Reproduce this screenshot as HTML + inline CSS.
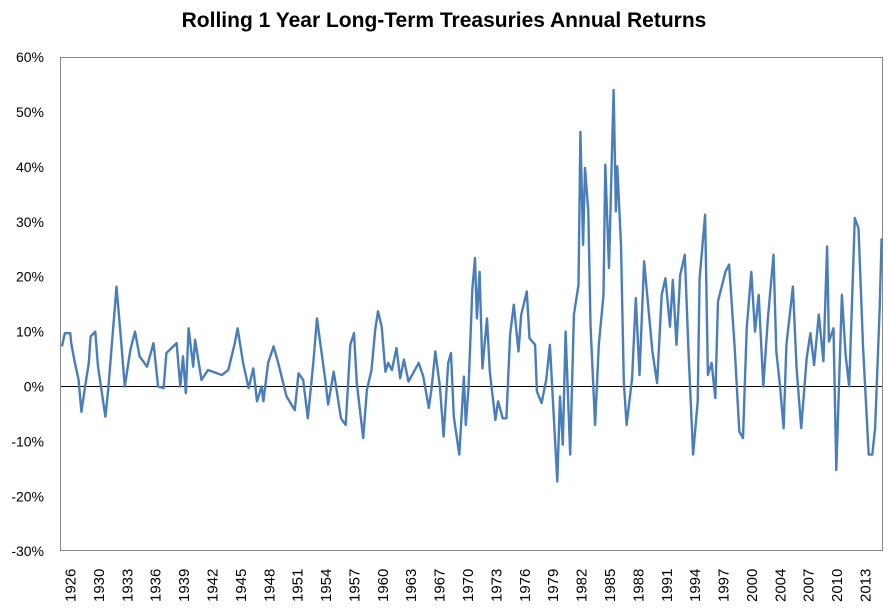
<!DOCTYPE html>
<html><head><meta charset="utf-8"><style>
body{margin:0;background:#fff;}
svg{display:block;font-family:"Liberation Sans",Arial,sans-serif;}
</style></head><body>
<svg id="chart" width="888" height="614">
<text x="444" y="27" text-anchor="middle" font-size="21" font-weight="bold" fill="#000">Rolling 1 Year Long-Term Treasuries Annual Returns</text>
<rect x="60.5" y="57.5" width="822" height="493" fill="none" stroke="#888" stroke-width="1"/>
<g id="yaxis"></g>
<g id="xaxis"></g>
<line id="zero" stroke="#000" stroke-width="1"/>
<path id="series" fill="none" stroke="#4a7ebb" stroke-width="2.4" stroke-linejoin="round"/>
</svg>
<script>
const years = [1926.0,1926.3,1926.9,1927.0,1927.4,1927.8,1928.1,1928.5,1928.9,1929.1,1929.6,1929.9,1930.7,1931.0,1931.9,1932.3,1932.8,1933.4,1933.9,1934.4,1935.2,1935.9,1936.4,1937.0,1937.3,1938.4,1938.8,1939.1,1939.4,1939.7,1940.2,1940.4,1941.1,1941.8,1943.3,1944.0,1944.7,1945.0,1945.6,1946.2,1946.7,1947.1,1947.6,1947.8,1948.3,1948.9,1949.4,1950.3,1951.2,1951.6,1952.1,1952.6,1953.2,1953.6,1953.9,1954.5,1954.8,1955.4,1956.2,1956.7,1957.2,1957.6,1957.9,1958.6,1959.0,1959.5,1959.9,1960.2,1960.6,1961.0,1961.3,1961.7,1962.2,1962.6,1963.0,1963.5,1964.6,1965.1,1965.7,1966.0,1966.4,1966.9,1967.3,1967.8,1968.1,1968.4,1969.0,1969.5,1969.7,1970.0,1970.4,
1970.7,1970.9,1971.2,1971.5,1972.0,1972.3,1972.9,1973.2,1973.7,1974.1,1974.5,1974.9,1975.4,1975.7,1976.3,1976.6,1977.2,1977.4,1977.9,1978.4,1978.8,1979.2,1979.6,1979.9,1980.2,1980.5,1981.0,1981.4,1981.9,1982.1,1982.4,1982.6,1982.96,1983.2,1983.7,1984.1,1984.6,1984.8,1985.2,1985.7,1985.95,1986.1,1986.5,1986.8,1987.1,1987.7,1988.1,1988.5,1989.0,1989.5,1989.9,1990.4,1990.9,1991.3,1991.8,1992.1,1992.5,1992.9,1993.4,1993.8,1994.3,1994.8,1995.0,1995.6,1995.9,1996.3,1996.7,1997.0,1997.8,1998.2,1998.8,1999.3,1999.7,2000.1,2000.6,2001.0,2001.4,2001.9,2002.4,2003.0,2003.3,2003.7,2004.1,2004.4,2005.1,2005.5,2006.0,2006.6,2007.0,2007.4,2007.9,2008.4,2008.8,2009.0,2009.5,2009.8,2010.4,2010.8,2011.2,2011.8,2012.2,2012.7,2013.3,2013.7,2014.0,2014.5,2014.7];
const returns = [7.3,9.7,9.7,7.9,4.3,1.2,-4.6,0,4.3,9.1,10,3.6,-5.5,-0.6,18.2,10.3,0,6.7,10,5.5,3.6,7.9,0,-0.3,6.1,7.9,0,5.5,-1.2,10.6,3.6,8.5,1.2,3.0,2.1,3,7.9,10.6,4.3,-0.3,3.3,-2.7,0,-2.7,4.3,7.3,4.3,-1.8,-4.3,2.4,1.2,-5.8,4.3,12.4,8.5,1.2,-3.3,2.7,-5.8,-7.0,7.6,9.7,0.6,-9.4,-0.6,3.0,10.3,13.7,10.9,2.7,4.3,3,7,1.5,4.9,0.9,4.3,1.8,-3.9,-0.3,6.4,0,-9.1,4.3,6.1,-5.5,-12.4,1.8,-7,0,17.6,
23.4,12.4,20.9,3.3,12.4,2.7,-6.1,-2.7,-5.8,-5.8,9.4,14.9,6.4,13.1,17.3,8.8,7.6,-0.9,-3,1.2,7.6,-4.9,-17.3,-1.8,-10.6,10,-12.4,13.1,18.5,46.4,25.8,39.8,31.9,11.2,-7,7.6,16.7,40.4,21.6,54,31.9,40.1,25.8,0.9,-7,1.5,16.1,2.1,22.8,13.7,6.4,0.6,16.7,19.7,10.9,19.4,7.6,20.3,24,6.4,-12.4,-2.7,19.7,31.3,2.1,4.3,-2.1,15.5,20.9,22.2,7,-8.2,-9.4,10.6,20.9,10,16.7,0,12.4,24,6.4,0.3,-7.6,7.6,18.2,3.3,-7.6,5.2,9.7,3.9,13.1,4.6,25.5,8.2,10.6,-15.2,16.7,5.8,0,30.7,28.8,7,-12.4,-12.4,-7.6,14.3,27];
const yTicks = [60,50,40,30,20,10,0,-10,-20,-30];
const xTickYears = [1926,1930,1933,1936,1939,1942,1945,1948,1951,1954,1957,1960,1963,1967,1970,1973,1976,1979,1982,1985,1988,1991,1994,1997,2000,2004,2007,2010,2013];

const NS = "http://www.w3.org/2000/svg";
const yScale = v => 386.5 - v * 5.49;
const xScale = yr => 62 + (yr - 1926) * 9.24;

const yax = document.getElementById('yaxis');
yTicks.forEach(t => {
  const tx = document.createElementNS(NS, 'text');
  tx.setAttribute('x', 44); tx.setAttribute('y', yScale(t) + 5);
  tx.setAttribute('text-anchor', 'end'); tx.setAttribute('font-size', '14');
  tx.textContent = t + '%';
  
  
  yax.appendChild(tx);
});
const xax = document.getElementById('xaxis');
const labelStep = (865 - 70) / (xTickYears.length - 1);
xTickYears.forEach((yr, i) => {
  const pos = 70 + i * labelStep;
  const tx = document.createElementNS(NS, 'text');
  tx.setAttribute('transform', 'translate(' + (pos + 5.5) + ',602) rotate(-90)');
  tx.setAttribute('font-size', '15');
  tx.textContent = yr;
  
  
  xax.appendChild(tx);
});
const z = document.getElementById('zero');
z.setAttribute('x1', 61); z.setAttribute('x2', 882);
z.setAttribute('y1', yScale(0)); z.setAttribute('y2', yScale(0));
let d = '';
years.forEach((yr, i) => { d += (i ? 'L' : 'M') + xScale(yr).toFixed(1) + ',' + yScale(returns[i]).toFixed(1); });
document.getElementById('series').setAttribute('d', d);
</script>
</body></html>
